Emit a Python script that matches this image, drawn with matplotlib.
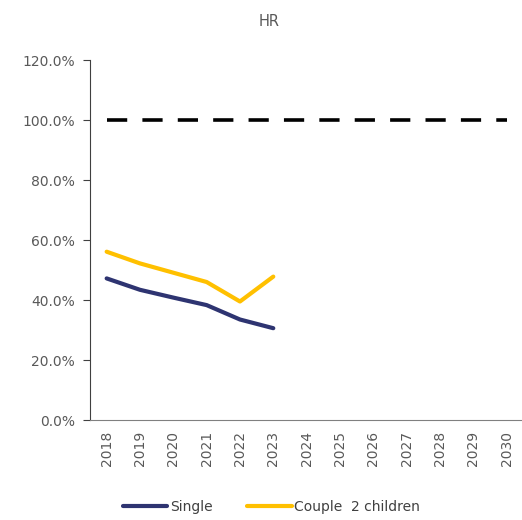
import matplotlib.pyplot as plt
import numpy as np

years = [str(y) for y in range(2018, 2031)]
single = [47.2, 43.4, 40.8, 38.3, 33.5, 30.6]
couple = [56.1, 52.2, 49.1, 46.0, 39.5, 47.8]
target = [100.0] * len(years)

fig = plt.figure(figsize=(5.22, 5.2), dpi=100)
ax = fig.add_axes([0.1724, 0.1923, 0.83, 0.6923])

x = np.arange(len(years))
ax.plot(x, target, color='black', lw=2.6, dashes=(5.6, 4.2), zorder=2)
ax.plot(x[:len(single)], single, color='#2e3471', lw=3, label='Single', solid_capstyle='round')
ax.plot(x[:len(couple)], couple, color='#ffc000', lw=3, label='Couple  2 children', solid_capstyle='round')

ax.set_xlim(-0.5, len(years) - 0.5)
ax.set_ylim(0, 120)
ax.set_yticks(np.arange(0, 121, 20))
ax.set_yticklabels([f'{v:.1f}%' for v in np.arange(0, 121, 20)])
ax.set_xticks(x)
ax.set_xticklabels(years, rotation=90)

for s in ['top', 'right']:
    ax.spines[s].set_visible(False)
ax.spines['left'].set_color('#404040')
ax.spines['bottom'].set_color('#808080')
ax.tick_params(axis='y', length=5, color='#404040', labelcolor='#595959', labelsize=10, pad=6)
ax.tick_params(axis='x', length=0, labelcolor='#595959', labelsize=10, pad=8)

fig.text(0.515, 0.958, 'HR', ha='center', va='center', fontsize=10.5, color='#595959')
fig.legend(loc='lower center', bbox_to_anchor=(0.52, -0.012), ncol=2, frameon=False,
           fontsize=10, labelcolor='#404040', handlelength=3.2, handletextpad=0.2, columnspacing=2.5)

fig.savefig('out.png', dpi=100)
